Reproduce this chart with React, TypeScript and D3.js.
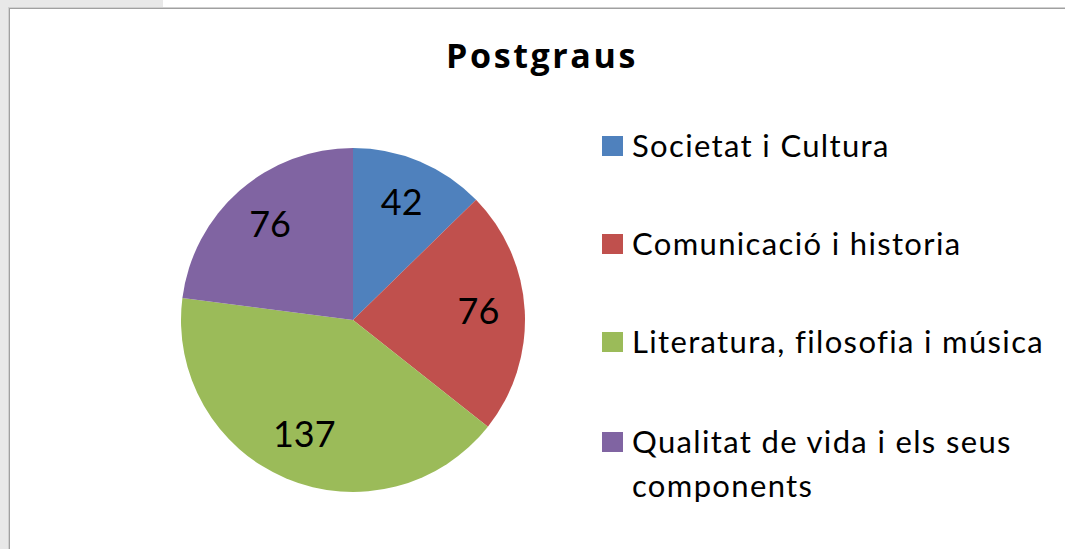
import React from "react";
import * as d3 from "d3";

const categories = [
  "Societat i Cultura",
  "Comunicació i historia",
  "Literatura, filosofia i música",
  "Qualitat de vida i els seus components",
];
const values = [42, 76, 137, 76];
const legendLines = [
  ["Societat i Cultura"],
  ["Comunicació i historia"],
  ["Literatura, filosofia i música"],
  ["Qualitat de vida i els seus", "components"],
];
const colors = ["#4F81BD", "#C0504D", "#9BBB59", "#8064A2"];
const title = "Postgraus";

const W = 1065;
const H = 549;
const FONT = "Lato, 'Open Sans', sans-serif";

export default function App() {
  const cx = 353;
  const cy = 320;
  const R = 172;
  const pie = d3.pie<number>().sort(null).value((d) => d);
  const arcs = pie(values);
  const arc = d3.arc<d3.PieArcDatum<number>>().innerRadius(0).outerRadius(R);
  const labelArc = d3
    .arc<d3.PieArcDatum<number>>()
    .innerRadius(R * 0.73)
    .outerRadius(R * 0.73);

  const legendX = 602;
  const legendRowY = [157, 255, 353, 453];
  const lineGap = 44;

  return (
    <svg
      width={W}
      height={H}
      style={{ position: "absolute", left: 0, top: 0, background: "#fff" }}
    >
      <rect x={0} y={0} width={8} height={H} fill="#e8e8e8" />
      <rect x={0} y={0} width={163} height={7} fill="#e8e8e8" />
      <line x1={8} y1={7.5} x2={W} y2={7.5} stroke="#d0d0d0" strokeWidth={1} />
      <line x1={8.5} y1={7} x2={8.5} y2={H} stroke="#d0d0d0" strokeWidth={1} />
      <line x1={9} y1={8.5} x2={W} y2={8.5} stroke="#a0a0a0" strokeWidth={1} />
      <line x1={9.5} y1={8} x2={9.5} y2={H} stroke="#a0a0a0" strokeWidth={1} />

      <text
        x={542}
        y={68}
        textAnchor="middle"
        fontFamily="'Open Sans', Lato, sans-serif"
        fontWeight="bold"
        fontSize={34}
        letterSpacing={2.6}
        fill="#000"
      >
        {title}
      </text>

      <g transform={`translate(${cx},${cy})`}>
        {arcs.map((a, i) => (
          <path key={i} d={arc(a) || ""} fill={colors[i]} />
        ))}
        {arcs.map((a, i) => {
          const [x, y] = labelArc.centroid(a);
          return (
            <text
              key={"l" + i}
              x={x}
              y={y}
              dy={-3}
              textAnchor="middle"
              dominantBaseline="central"
              fontFamily={FONT}
              fontSize={36}
              fill="#000"
            >
              {values[i]}
            </text>
          );
        })}
      </g>

      {categories.map((c, i) => (
        <g key={c}>
          <rect
            x={legendX}
            y={legendRowY[i] - 21}
            width={21}
            height={20}
            fill={colors[i]}
          />
          {legendLines[i].map((ln, j) => (
            <text
              key={j}
              x={legendX + 30}
              y={legendRowY[i] + j * lineGap}
              fontFamily={FONT}
              fontSize={31}
              letterSpacing={1.35}
              fill="#000"
            >
              {ln}
            </text>
          ))}
        </g>
      ))}
    </svg>
  );
}
